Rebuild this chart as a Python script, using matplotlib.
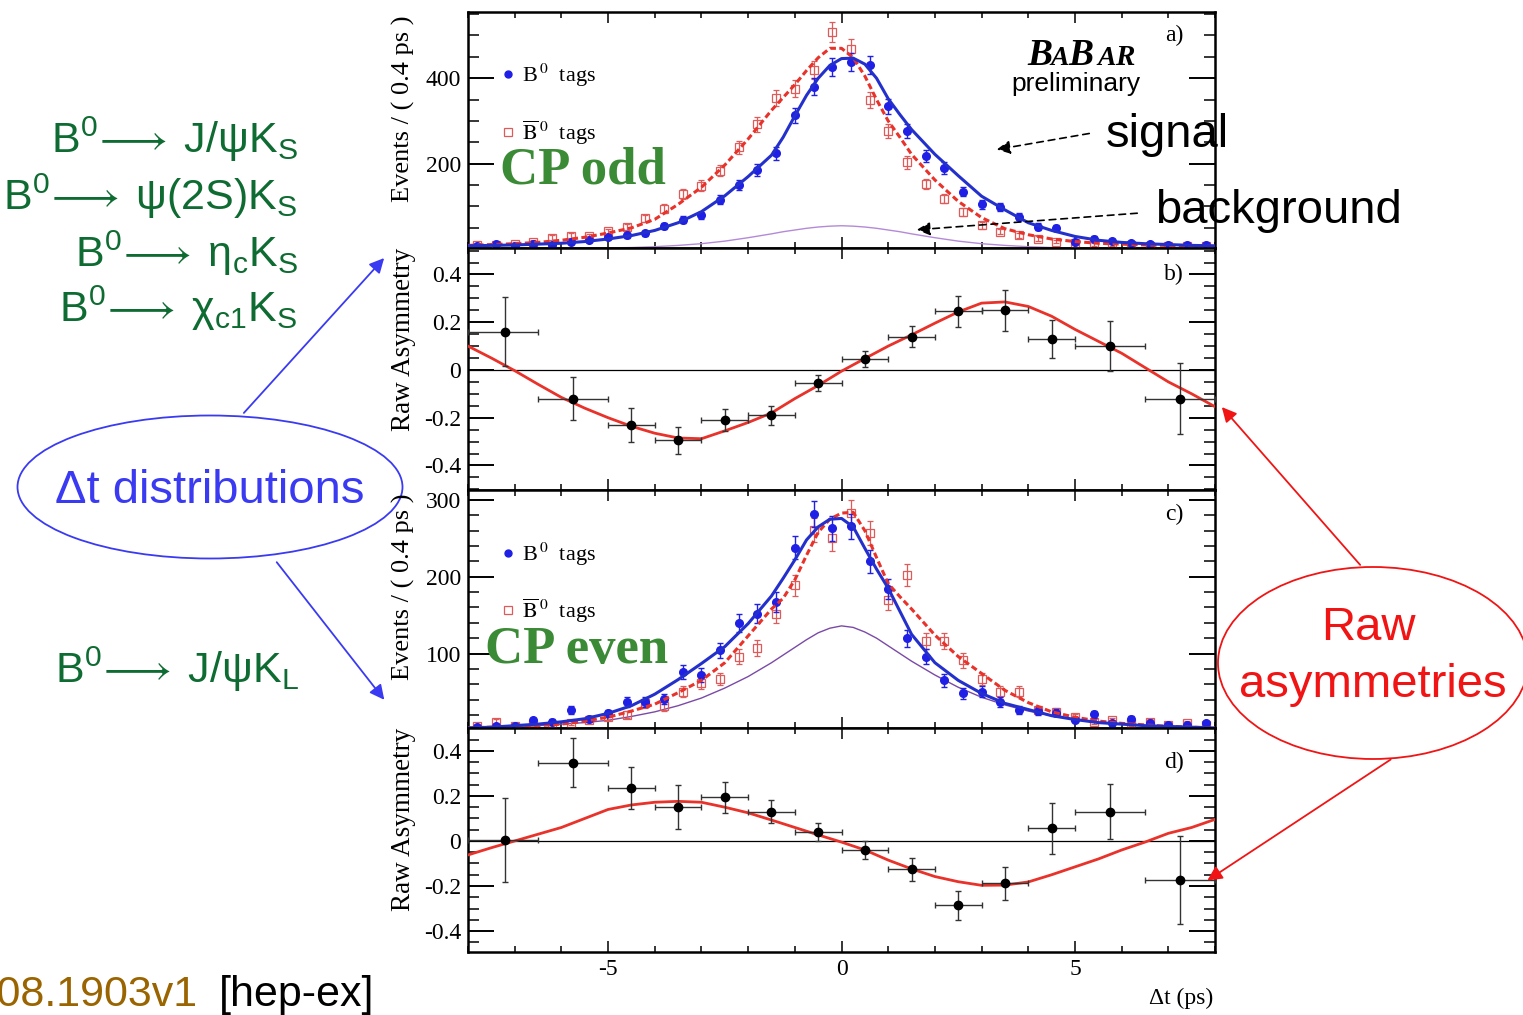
import numpy as np
import matplotlib
matplotlib.use('Agg')
import matplotlib.pyplot as plt
from matplotlib.patches import Ellipse, FancyArrowPatch
from matplotlib.lines import Line2D
from matplotlib.ticker import MultipleLocator, FixedLocator, FuncFormatter

W, H = 1523, 1015

# bin centres of the Delta t histograms (0.4 ps bins)
bin_t = [-7.8, -7.4, -7.0, -6.6, -6.2, -5.8, -5.4, -5.0, -4.6, -4.2,
         -3.8, -3.4, -3.0, -2.6, -2.2, -1.8, -1.4, -1.0, -0.6, -0.2,
         0.2, 0.6, 1.0, 1.4, 1.8, 2.2, 2.6, 3.0, 3.4, 3.8,
         4.2, 4.6, 5.0, 5.4, 5.8, 6.2, 6.6, 7.0, 7.4, 7.8]

# CP odd sample: events per bin
odd_b0 = [8, 12, 8, 13, 11, 16, 22, 29, 33, 37, 54, 69, 79, 116, 150, 185, 224, 313, 380, 427,
          438, 431, 334, 276, 218, 191, 135, 105, 99, 76, 53, 49, 18, 25, 19, 14, 12, 10, 10, 10]
odd_b0bar = [9, 11, 13, 17, 27, 32, 30, 42, 52, 72, 95, 130, 149, 184, 238, 292, 353, 376, 419, 508,
             469, 350, 276, 203, 153, 118, 87, 56, 41, 33, 25, 18, 15, 12, 11, 9, 8, 8, 7, 7]

# CP even sample: events per bin
even_b0 = [4, 6, 6, 13, 11, 26, 15, 22, 37, 37, 41, 76, 72, 104, 140, 152, 167, 238, 282, 263,
           266, 220, 184, 120, 96, 65, 48, 50, 37, 27, 25, 23, 14, 21, 9, 15, 9, 7, 7, 9]
even_b0bar = [5, 11, 6, 8, 7, 10, 14, 17, 20, 35, 31, 50, 61, 67, 96, 107, 152, 189, 261, 250,
              283, 257, 170, 202, 116, 116, 91, 67, 50, 50, 26, 24, 17, 11, 13, 9, 11, 7, 9, 7]

# fit projections
fit_t = [-8, -7.5, -7, -6.5, -6, -5.5, -5, -4.5, -4, -3.5, -3, -2.5, -2,
         -1.5, -1.25, -1, -0.75, -0.5, -0.25, 0, 0.25, 0.5, 0.75, 1, 1.25, 1.5,
         2, 2.5, 3, 3.5, 4, 4.5, 5, 5.5, 6, 6.5, 7, 7.5, 8]
odd_fit_b0 = [8, 9, 10, 12, 14, 18, 24, 32, 44, 62, 88, 125, 170,
              220, 262, 312, 360, 400, 430, 446, 447, 433, 400, 352, 315, 280,
              222, 172, 124, 92, 62, 44, 30, 21, 16, 13, 11, 9, 8]
odd_fit_b0bar = [9, 11, 13, 16, 21, 28, 38, 50, 70, 105, 145, 197, 258,
                 325, 355, 385, 418, 448, 470, 470, 448, 405, 350, 300, 262, 222,
                 162, 112, 74, 48, 34, 24, 18, 14, 12, 10, 9, 8, 7]
odd_fit_bkg = [1, 1, 1, 2, 2, 3, 3, 4, 6, 9, 13, 19, 27,
               36, 41, 45, 49, 52, 54, 55, 54, 52, 49, 45, 41, 36,
               27, 19, 13, 9, 6, 4, 3, 3, 2, 2, 1, 1, 1]
even_fit_b0 = [3, 4, 6, 8, 11, 15, 22, 32, 47, 66, 87, 109, 139,
               175, 198, 222, 248, 265, 275, 276, 265, 237, 210, 185, 155, 125,
               88, 65, 48, 35, 27, 19, 14, 10, 8, 6, 5, 4, 3]
even_fit_b0bar = [3, 4, 5, 6, 8, 12, 17, 25, 34, 49, 65, 88, 123,
                  158, 172, 196, 228, 258, 275, 283, 284, 260, 225, 191, 174, 158,
                  124, 96, 74, 52, 36, 24, 17, 12, 9, 7, 5, 4, 3]
even_fit_bkg = [3, 4, 5, 6, 8, 10, 13, 18, 24, 32, 42, 55, 70,
                88, 98, 108, 118, 127, 133, 136, 134, 128, 120, 110, 100, 90,
                72, 56, 43, 33, 25, 19, 14, 10, 8, 6, 5, 4, 3]

# raw asymmetry points (variable bins)
asym_t = [-7.2, -5.75, -4.5, -3.5, -2.5, -1.5, -0.5, 0.5, 1.5, 2.5, 3.5, 4.5, 5.75, 7.25]
asym_lo = [-8, -6.5, -5, -4, -3, -2, -1, 0, 1, 2, 3, 4, 5, 6.5]
asym_hi = [-6.5, -5, -4, -3, -2, -1, 0, 1, 2, 3, 4, 5, 6.5, 8]
odd_asym = [0.16, -0.12, -0.23, -0.295, -0.21, -0.19, -0.055, 0.045, 0.14, 0.245, 0.25, 0.13, 0.10, -0.12]
odd_asym_err = [0.145, 0.09, 0.07, 0.058, 0.045, 0.04, 0.035, 0.033, 0.045, 0.064, 0.086, 0.08, 0.105, 0.148]
even_asym = [0.005, 0.348, 0.234, 0.152, 0.194, 0.13, 0.039, -0.04, -0.126, -0.286, -0.188, 0.056, 0.13, -0.173]
even_asym_err = [0.185, 0.11, 0.093, 0.097, 0.07, 0.052, 0.041, 0.04, 0.052, 0.063, 0.072, 0.112, 0.123, 0.194]

# asymmetry fit curves
asym_fit_t = [-8, -7.5, -7, -6.5, -6, -5.5, -5, -4.5, -4, -3.5, -3, -2.5, -2, -1.5, -1, -0.5,
              0, 0.5, 1, 1.5, 2, 2.5, 3, 3.5, 4, 4.5, 5, 5.5, 6, 6.5, 7, 7.5, 8]
odd_asym_fit = [0.10, 0.05, -0.003, -0.06, -0.115, -0.16, -0.20, -0.236, -0.265, -0.285,
                -0.288, -0.255, -0.22, -0.18, -0.12, -0.065, -0.005, 0.048, 0.10, 0.147,
                0.196, 0.243, 0.28, 0.285, 0.266, 0.225, 0.17, 0.12, 0.07, 0.01,
                -0.05, -0.10, -0.154]
even_asym_fit = [-0.062, -0.03, 0.0, 0.03, 0.06, 0.10, 0.14, 0.16, 0.172, 0.176,
                 0.172, 0.15, 0.125, 0.093, 0.06, 0.027, -0.005, -0.04, -0.085, -0.124,
                 -0.158, -0.181, -0.197, -0.196, -0.182, -0.15, -0.115, -0.08, -0.04, -0.005,
                 0.034, 0.06, 0.096]

# ---- styling ----
plt.rcParams['font.family'] = ['Liberation Serif', 'DejaVu Serif']
plt.rcParams['axes.unicode_minus'] = False
plt.rcParams['mathtext.fontset'] = 'custom'
plt.rcParams['mathtext.rm'] = 'Liberation Sans'
plt.rcParams['mathtext.it'] = 'Liberation Sans:italic'
plt.rcParams['mathtext.bf'] = 'Liberation Sans:bold'
plt.rcParams['mathtext.fallback'] = 'stixsans'

SANS = ['Liberation Sans', 'DejaVu Sans']
SERIF = ['Liberation Serif', 'DejaVu Serif']
blue = '#1f1fe6'
blue_line = '#2430cc'
red = '#e8322a'
red_pt = '#e05a5a'
purple_a = '#b48ad8'
purple_c = '#7a4aa6'
green = '#0e6b32'
cp_green = '#3b8a35'
ann_blue = '#3a3af2'
ann_red = '#f01414'


def fx(px):
    return px / W


def fy(py):
    return 1 - py / H


def style_axis(ax, ylim, major, minor, bottom_labels=False):
    ax.set_xlim(-8, 8)
    ax.set_ylim(*ylim)
    ax.xaxis.set_major_locator(MultipleLocator(5))
    ax.xaxis.set_minor_locator(MultipleLocator(1))
    ax.yaxis.set_major_locator(FixedLocator(major))
    ax.yaxis.set_minor_locator(MultipleLocator(minor))
    ax.yaxis.set_major_formatter(FuncFormatter(lambda v, p: '%g' % v))
    ax.xaxis.set_major_formatter(FuncFormatter(lambda v, p: '%g' % v))
    ax.tick_params(which='both', direction='in', top=True, right=True, width=1.1,
                   labelsize=17, pad=5)
    ax.tick_params(axis='y', which='major', length=19, width=1.4)
    ax.tick_params(axis='y', which='minor', length=8)
    ax.tick_params(axis='x', which='major', length=8)
    ax.tick_params(axis='x', which='minor', length=4)
    ax.tick_params(labelbottom=bottom_labels)
    for sp in ax.spines.values():
        sp.set_linewidth(1.8)


def draw_counts(ax, b0, b0bar, f0, f0bar, fbkg, bkg_color):
    ax.plot(fit_t, fbkg, color=bkg_color, lw=1.0, zorder=2)
    ax.errorbar(bin_t, b0bar, yerr=np.sqrt(b0bar), fmt='s', ms=6, mfc='none', mec=red_pt,
                mew=0.9, ecolor=red_pt, elinewidth=0.9, capsize=2.5, zorder=3)
    ax.errorbar(bin_t, b0, yerr=np.sqrt(b0), fmt='o', ms=5.5, color=blue, ecolor=blue,
                elinewidth=1.0, capsize=2.5, zorder=4)
    ax.plot(fit_t, f0bar, color=red, lw=2.2, ls=(0, (2.0, 1.1)), zorder=5)
    ax.plot(fit_t, f0, color=blue_line, lw=2.2, zorder=5)
    handles = [Line2D([], [], marker='o', ls='none', color=blue, ms=5),
               Line2D([], [], marker='s', ls='none', mfc='none', mec=red_pt, mew=0.9, ms=6)]
    leg = ax.legend(handles, [r'B$^{\,0}$  tags', r'$\overline{\rm B}^{\,0}$  tags'],
                    loc='upper left', bbox_to_anchor=(0.024, 0.853), frameon=False,
                    fontsize=16, handlelength=0.6, handletextpad=0.3, labelspacing=1.3,
                    borderaxespad=0.3)
    for t in leg.get_texts():
        t.set_math_fontfamily('stix')


def draw_asym(ax, vals, errs, fit):
    xerr = [np.subtract(asym_t, asym_lo), np.subtract(asym_hi, asym_t)]
    ax.axhline(0, color='black', lw=0.9, zorder=1)
    ax.plot(asym_fit_t, fit, color=red, lw=2.0, zorder=3)
    ax.errorbar(asym_t, vals, xerr=xerr, yerr=errs, fmt='o', ms=6, color='black',
                ecolor='#333333', elinewidth=1.0, capsize=2.5, zorder=4)


fig = plt.figure(figsize=(W / 100, H / 100), dpi=100)

ax_a = fig.add_axes([0.3073, 0.7557, 0.4905, 0.2325])
ax_b = fig.add_axes([0.3073, 0.5172, 0.4905, 0.2385])
ax_c = fig.add_axes([0.3073, 0.2828, 0.4905, 0.2344])
ax_d = fig.add_axes([0.3073, 0.0621, 0.4905, 0.2207])

draw_counts(ax_a, odd_b0, odd_b0bar, odd_fit_b0, odd_fit_b0bar, odd_fit_bkg, purple_a)
style_axis(ax_a, (3, 555), [200, 400], 50)

draw_asym(ax_b, odd_asym, odd_asym_err, odd_asym_fit)
style_axis(ax_b, (-0.503, 0.511), [-0.4, -0.2, 0, 0.2, 0.4], 0.05)

draw_counts(ax_c, even_b0, even_b0bar, even_fit_b0, even_fit_b0bar, even_fit_bkg, purple_c)
style_axis(ax_c, (3, 313), [100, 200, 300], 20)

draw_asym(ax_d, even_asym, even_asym_err, even_asym_fit)
style_axis(ax_d, (-0.493, 0.502), [-0.4, -0.2, 0, 0.2, 0.4], 0.05, bottom_labels=True)

# axis titles and panel letters
for top in [12, 490]:
    fig.text(fx(403), fy(top + 3), 'Events / ( 0.4 ps )', rotation=90, ha='center', va='top',
             fontsize=19, family=SERIF)
for top in [248, 728]:
    fig.text(fx(403), fy(top), 'Raw Asymmetry', rotation=90, ha='center', va='top',
             fontsize=19.5, family=SERIF)
for lab, yc in [('a)', 35), ('b)', 274), ('c)', 514), ('d)', 762)]:
    fig.text(fx(1174), fy(yc), lab, ha='center', va='center', fontsize=17, family=SERIF)
fig.text(fx(1213), fy(998), 'Δt (ps)', ha='right', va='center', fontsize=17, family=SERIF)

fig.text(fx(500), fy(183), 'CP odd', ha='left', va='baseline', fontsize=38,
         fontweight='bold', color=cp_green, family=SERIF)
fig.text(fx(485), fy(663), 'CP even', ha='left', va='baseline', fontsize=38,
         fontweight='bold', color=cp_green, family=SERIF)

# BaBar logo
for s, x0, size in [('B', 1027, 27), ('A', 1050, 20), ('B', 1068, 27), ('A', 1097, 20), ('R', 1115, 21)]:
    fig.text(fx(x0), fy(65), s, ha='left', va='baseline', fontsize=size, fontweight='bold',
             fontstyle='italic', family=SERIF)
fig.text(fx(1011), fy(91), 'preliminary', ha='left', va='baseline', fontsize=19, family=SANS)

# decay modes
arrow = r'$^\mathrm{0}\!\longrightarrow\;$'
decays = [('B' + arrow + r'J/ψK$_\mathrm{S}$', 153),
          ('B' + arrow + r'ψ(2S)K$_\mathrm{S}$', 210),
          ('B' + arrow + r'η$_\mathrm{c}$K$_\mathrm{S}$', 267),
          ('B' + arrow + r'χ$_\mathrm{c1}$K$_\mathrm{S}$', 322)]
for s, yb in decays:
    fig.text(fx(298), fy(yb), s, ha='right', va='baseline', fontsize=31, color=green, family=SANS)
fig.text(fx(55), fy(683), 'B' + arrow + r'J/ψK$_\mathrm{L}$', ha='left', va='baseline',
         fontsize=31, color=green, family=SANS)

# Delta t distributions callout
fig.add_artist(Ellipse((fx(210), fy(487)), 385 / W, 143 / H, transform=fig.transFigure,
                       fill=False, ec=ann_blue, lw=1.3))
fig.text(fx(210), fy(503), 'Δt distributions', ha='center', va='baseline', fontsize=34,
         color=ann_blue, family=SANS)
for p0, p1 in [((242, 415), (386, 256)), ((275, 560), (386, 702))]:
    fig.add_artist(FancyArrowPatch((fx(p0[0]), fy(p0[1])), (fx(p1[0]), fy(p1[1])),
                                   transform=fig.transFigure, arrowstyle='-|>',
                                   mutation_scale=22, color=ann_blue, lw=1.3))

# signal / background
fig.text(fx(1106), fy(147), 'signal', ha='left', va='baseline', fontsize=34, family=SANS)
fig.text(fx(1155), fy(223), 'background', ha='left', va='baseline', fontsize=34, family=SANS)
for p0, p1 in [((1092, 133), (994, 150)), ((1140, 213), (914, 230))]:
    fig.add_artist(FancyArrowPatch((fx(p0[0]), fy(p0[1])), (fx(p1[0]), fy(p1[1])),
                                   transform=fig.transFigure, arrowstyle='-|>',
                                   mutation_scale=20, color='black', lw=1.2, ls=(0, (4, 3))))

# raw asymmetries callout
fig.add_artist(Ellipse((fx(1373), fy(663)), 310 / W, 192 / H, transform=fig.transFigure,
                       fill=False, ec=ann_red, lw=1.3))
fig.text(fx(1368), fy(640), 'Raw', ha='center', va='baseline', fontsize=34,
         color=ann_red, family=SANS)
fig.text(fx(1373), fy(697), 'asymmetries', ha='center', va='baseline', fontsize=34,
         color=ann_red, family=SANS)
for p0, p1 in [((1362, 567), (1220, 405)), ((1393, 758), (1205, 882))]:
    fig.add_artist(FancyArrowPatch((fx(p0[0]), fy(p0[1])), (fx(p1[0]), fy(p1[1])),
                                   transform=fig.transFigure, arrowstyle='-|>',
                                   mutation_scale=22, color=ann_red, lw=1.3))

# reference
fig.text(fx(197), fy(1006), 'arXiv:0908.1903v1', ha='right', va='baseline', fontsize=31,
         color='#9a6400', family=SANS)
fig.text(fx(219), fy(1006), '[hep-ex]', ha='left', va='baseline', fontsize=31,
         color='black', family=SANS)

fig.savefig('out.png', dpi=100)
